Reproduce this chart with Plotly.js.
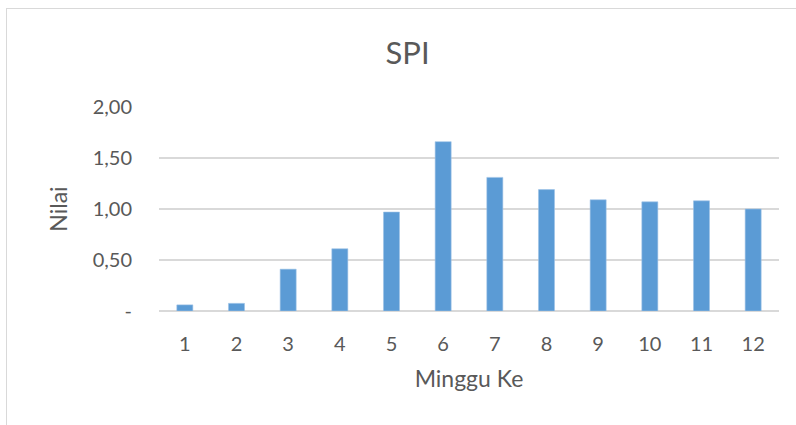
<!DOCTYPE html>
<html>
<head>
<meta charset="utf-8">
<script src="https://cdn.plot.ly/plotly-3.0.1.min.js"></script>
<style>
html,body{margin:0;padding:0;background:#fff;}
#wrap{position:relative;width:796px;height:425px;overflow:hidden;}
#chart{position:absolute;left:0;top:0;width:796px;height:425px;}
#frame{position:absolute;left:6px;top:8px;width:900px;height:500px;border-left:1.5px solid #D9D9D9;border-top:1.5px solid #D9D9D9;pointer-events:none;}
</style>
</head>
<body>
<div id="wrap"><div id="chart"></div><div id="frame"></div></div>
<script>
const weeks = ["1","2","3","4","5","6","7","8","9","10","11","12"];
const spi = [0.06, 0.075, 0.41, 0.61, 0.97, 1.66, 1.31, 1.19, 1.09, 1.07, 1.08, 1.00];
const yTickVals = [0, 0.5, 1, 1.5, 2];
const yTickText = ["-", "0,50", "1,00", "1,50", "2,00"];

const font = "Lato, 'Open Sans', sans-serif";
const grey = "#595959";

Plotly.newPlot("chart", [{
  type: "bar",
  x: weeks,
  y: spi,
  marker: {color: "#5B9BD5", line: {color: "#9DC3E6", width: 0.6}},
  hoverinfo: "none"
}], {
  width: 796, height: 425,
  margin: {l: 159, r: 17, t: 107, b: 114},
  paper_bgcolor: "#fff", plot_bgcolor: "#fff",
  bargap: 0.69,
  showlegend: false,
  font: {family: font, color: grey},
  title: {text: "SPI", font: {family: font, size: 31, color: grey},
          x: 0.512, xref: "container", xanchor: "center",
          y: 0.875, yref: "container", yanchor: "middle"},
  xaxis: {
    type: "category",
    showgrid: false, showline: false, zeroline: false,
    ticks: "", ticklabelstandoff: 19,
    tickfont: {family: font, size: 20, color: grey},
    title: {text: "Minggu Ke", font: {family: font, size: 23, color: grey}, standoff: 16}
  },
  yaxis: {
    range: [0, 2],
    tickvals: yTickVals, ticktext: yTickText,
    showgrid: true, gridcolor: "#D9D9D9", gridwidth: 1.5,
    zeroline: true, zerolinecolor: "#D9D9D9", zerolinewidth: 1.5,
    showline: false, ticks: "", ticklabelstandoff: 26,
    tickfont: {family: font, size: 20, color: grey},
    title: {text: "Nilai", font: {family: font, size: 23, color: grey}, standoff: 18}
  }
}, {staticPlot: true, displayModeBar: false});
</script>
</body>
</html>
